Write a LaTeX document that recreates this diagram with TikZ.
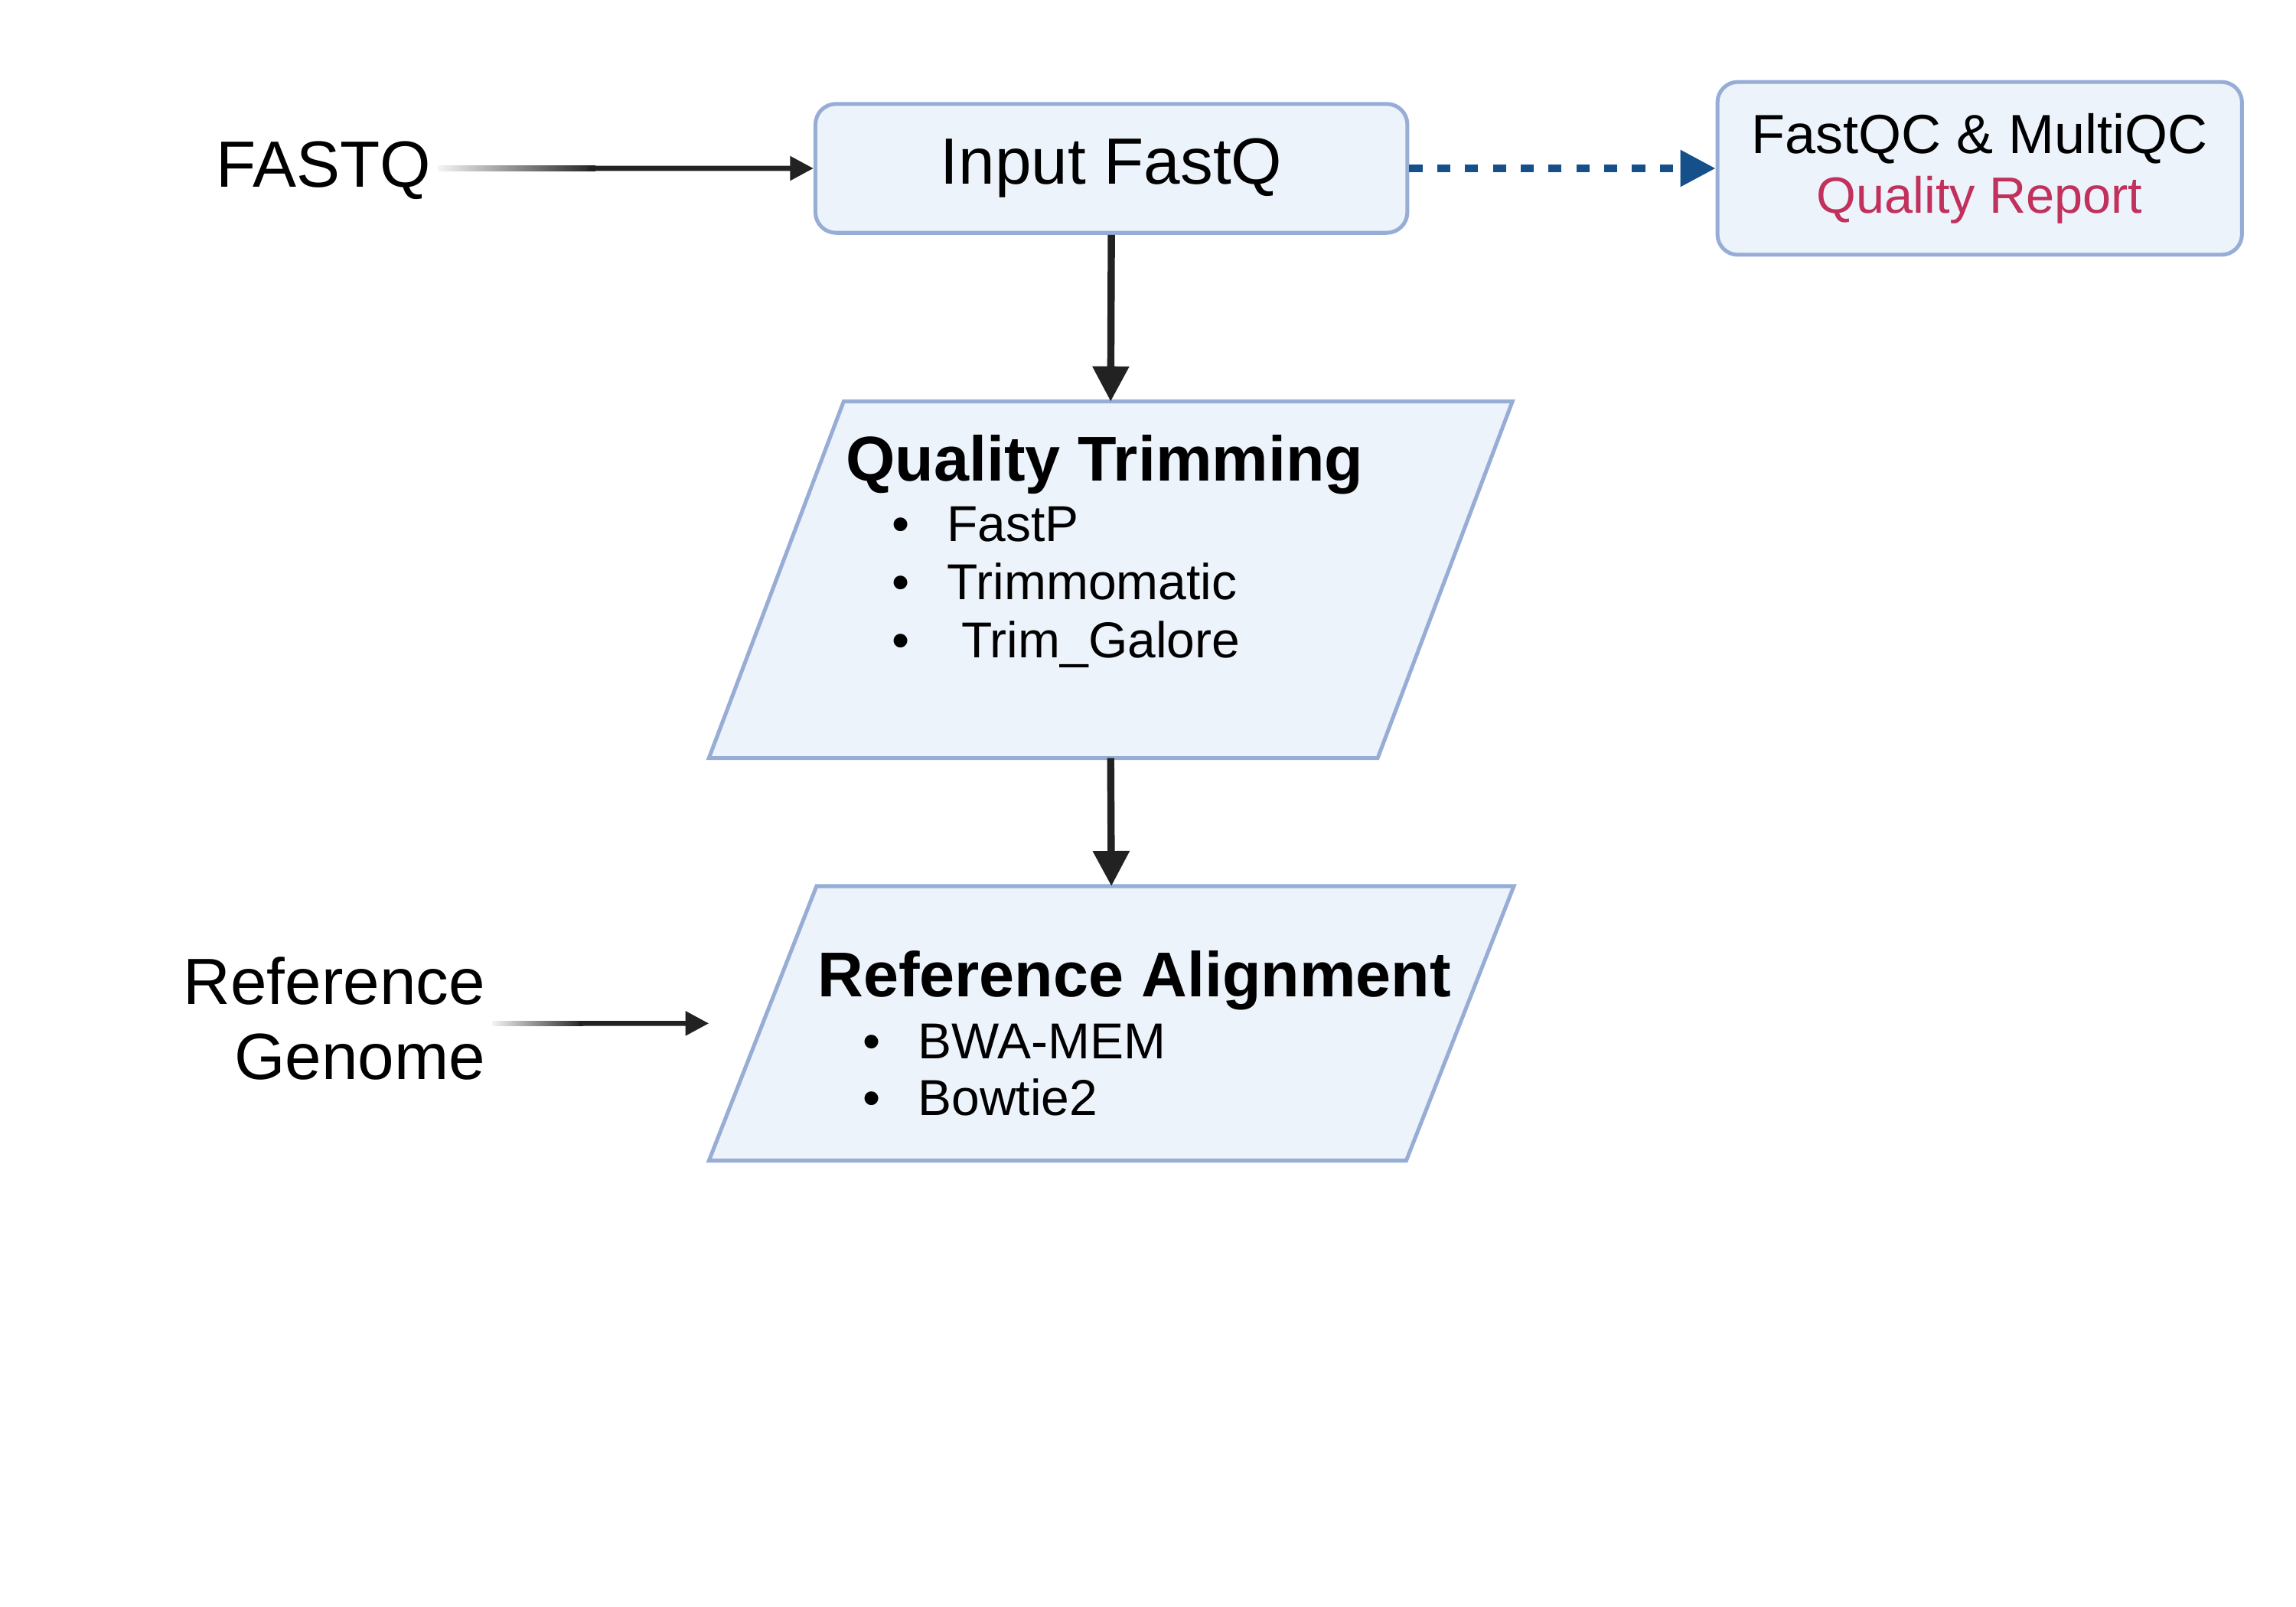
\documentclass[tikz,border=0pt]{standalone}
\usepackage{fontspec}
\setmainfont{Liberation Sans}
\usetikzlibrary{arrows.meta,calc,positioning}

\definecolor{boxfill}{HTML}{ECF3FB}
\definecolor{boxline}{HTML}{97ADD6}
\definecolor{arrowdark}{HTML}{222222}
\definecolor{qcblue}{HTML}{15508A}
\definecolor{reportred}{HTML}{C2305C}

\newcommand{\itm}[1]{\makebox[0pt]{\textbullet}\hspace{3.15mm}#1}

\tikzset{
	roundbox/.style={draw=boxline, fill=boxfill, line width=0.75pt, rounded corners=0.14cm},
	parabox/.style={rectangle, inner sep=0pt},
	paraline/.style={draw=boxline, fill=boxfill, line width=0.75pt},
	big/.style={font=\fontsize{12.7}{14.5}\selectfont},
	head/.style={font=\bfseries\fontsize{12.3}{14}\selectfont, inner sep=0pt},
	item/.style={font=\fontsize{9.8}{11}\selectfont, inner sep=0pt},
	flow/.style={-{Triangle[length=0.24cm,width=0.24cm]}, arrowdark, line width=1.4pt},
	feed/.style={-{Triangle[length=0.16cm,width=0.16cm]}, arrowdark, line width=1pt},
	qcflow/.style={-{Triangle[length=0.24cm,width=0.24cm]}, qcblue, line width=1.4pt, dash pattern=on 0.09cm off 0.1cm}
}

\begin{document}
\begin{tikzpicture}[x=0.01cm, y=-0.01cm]
\useasboundingbox (0,0) rectangle (1568,1097.6);

\node[roundbox, big, minimum width=4.04cm, minimum height=0.88cm] (input) at (759,115) {Input FastQ};
\node[roundbox, minimum width=3.58cm, minimum height=1.18cm, align=center, font=\fontsize{10.7}{11.55}\selectfont] (qc) at (1352,115)
	{FastQC \& MultiQC\\{\color{reportred}\fontsize{9.9}{11.55}\selectfont Quality Report}};
\node[big, inner sep=0pt, anchor=base east] (fastq) at (295,128) {FASTQ};

% trimming step
\node[parabox, minimum width=5.47cm, minimum height=2.42cm] (trim) at (758.5,396) {};
\draw[paraline] (trim.south west) -- ($(trim.north west)+(92,0)$) -- (trim.north east) -- ($(trim.south east)-(92,0)$) -- cycle;
\node[head, anchor=base west] (trimhead) at (577,328.3) {Quality Trimming};
\foreach \tool [count=\i] in {FastP,Trimmomatic,{\ Trim\_Galore}}
	\node[item, anchor=base west] (trim-\i) at (614.7,{370+39.5*(\i-1)}) {\itm{\tool}};

% alignment step
\node[parabox, minimum width=5.48cm, minimum height=1.86cm] (align) at (759,699) {};
\draw[paraline] (align.south west) -- ($(align.north west)+(73.5,0)$) -- (align.north east) -- ($(align.south east)-(73.5,0)$) -- cycle;
\node[head, anchor=base west] (alignhead) at (557.7,681) {Reference Alignment};
\foreach \tool [count=\i] in {BWA-MEM,Bowtie2}
	\node[item, anchor=base west] (align-\i) at (594.8,{723+39*(\i-1)}) {\itm{\tool}};
\node[big, inner sep=0pt, align=right, anchor=north east] (refgen) at (332,653) {Reference\\Genome};

\coordinate (fastqout) at ($(fastq.east |- input.west)+(4,0)$);
\coordinate (refout) at ($(refgen.east |- align.west)+(4,0)$);

\shade[left color=arrowdark!5, right color=arrowdark] ($(fastqout)+(0,-1.75)$) rectangle ($(fastqout)!0.42!(input.west)+(0,1.75)$);
\draw[feed] ($(fastqout)!0.4!(input.west)$) -- (input.west);
\shade[left color=arrowdark!5, right color=arrowdark] ($(refout)+(0,-1.75)$) rectangle ($(refout)!0.42!(align.west)+(0,1.75)$);
\draw[feed] ($(refout)!0.4!(align.west)$) -- (align.west);

\draw[qcflow] (input.east) -- (qc.west);
\draw[flow] (input.south) -- (trim.north);
\draw[flow] (trim.south) -- (align.north);
\end{tikzpicture}
\end{document}
